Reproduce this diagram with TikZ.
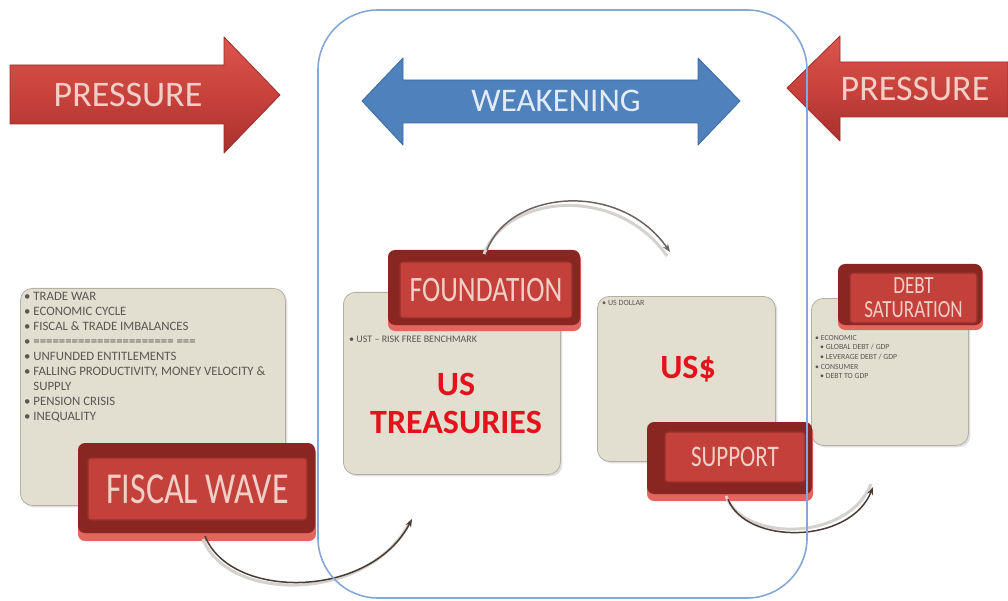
\documentclass[tikz,border=0pt]{standalone}
\usepackage{fontspec}
\usepackage{graphicx}
\setmainfont{Carlito}
\usetikzlibrary{arrows.meta,calc,shadows}
\definecolor{redmain}{HTML}{C8423C}
\definecolor{redlight}{HTML}{D9554D}
\definecolor{redlow}{HTML}{A8312C}
\definecolor{reddark}{HTML}{9E2C27}
\definecolor{rimred}{HTML}{8A2622}
\definecolor{glowred}{HTML}{E2665E}
\definecolor{facered}{HTML}{C4413B}
\definecolor{faceline}{HTML}{97302B}
\definecolor{btntext}{HTML}{F0CFC7}
\definecolor{bluemain}{HTML}{4F81BD}
\definecolor{blueline}{HTML}{3C6AA3}
\definecolor{bluetext}{HTML}{E2ECF7}
\definecolor{framecol}{HTML}{86A8D8}
\definecolor{cardfill}{HTML}{E2DED0}
\definecolor{cardline}{HTML}{B3AFA1}
\definecolor{smalltext}{HTML}{5A5751}
\definecolor{bigred}{HTML}{E3131B}
\definecolor{arccol}{HTML}{4A3B36}
\definecolor{arcshadow}{HTML}{D4D2CF}
\newcommand\btxt[1]{\scalebox{1}[1.3]{#1}}
\tikzset{
  redarrow/.style={top color=redlight, bottom color=redlow, middle color=redmain, draw=reddark, line width=0.8, line join=round},
  bluearrow/.style={fill=bluemain, draw=blueline, line width=0.8, line join=round},
  arrowtext/.style={text=btntext, font=\fontsize{36}{40}\selectfont, inner sep=0},
  weaktext/.style={text=bluetext, font=\fontsize{33}{38}\selectfont, inner sep=0},
  card/.style={fill=cardfill, draw=cardline, line width=0.8, rounded corners=12,
    drop shadow={opacity=0.25, shadow xshift=2pt, shadow yshift=-2pt}},
  glowrim/.style={fill=glowred, rounded corners=7},
  darkrim/.style={fill=rimred, rounded corners=7},
  face/.style={fill=facered, draw=faceline, line width=1.2, rounded corners=3,
    text=btntext, inner sep=0, align=center},
  small/.style={text=smalltext, inner sep=0, align=left, anchor=north west},
  bigtext/.style={text=bigred, font=\bfseries\fontsize{34}{40}\selectfont, inner sep=0, align=center},
  arcline/.style={draw=arccol, line width=1.5, -{Stealth[length=8pt,width=6pt]}},
  arcshade/.style={draw=arcshadow, line width=3},
  frame/.style={draw=framecol, line width=1.6, rounded corners=60, inner sep=0}
}
\begin{document}
\begin{tikzpicture}[x=1pt,y=-1pt]
\useasboundingbox (0,0) rectangle (1008,601);

% PRESSURE arrows
\path[redarrow] (10,65) -- (224,65) -- (224,37) -- (280,95) -- (224,153) -- (224,124) -- (10,124) -- cycle;
\node[arrowtext] (pl) at (128,95) {PRESSURE};
\path[redarrow] (1008,62) -- (840,62) -- (840,36) -- (787,88) -- (840,141) -- (840,117) -- (1008,117) -- cycle;
\node[arrowtext] (pr) at (915,89) {PRESSURE};

% WEAKENING
\path[bluearrow] (362,101) -- (403,58) -- (403,80) -- (698,80) -- (698,58) -- (740,101) -- (698,145) -- (698,123) -- (403,123) -- (403,145) -- cycle;
\node[weaktext] (wk) at (556,101) {WEAKENING};

% cards
\node[card, minimum width=265, minimum height=217, anchor=north west] (c1) at (20,288) {};
\node[small, font=\fontsize{12.8}{15}\selectfont] (t1) at (24,292) {%
• TRADE WAR\\
• ECONOMIC CYCLE\\
•  FISCAL \& TRADE IMBALANCES\\
• ====================== ===\\
• UNFUNDED ENTITLEMENTS\\
• FALLING PRODUCTIVITY, MONEY VELOCITY \&\\
\phantom{• }SUPPLY\\
• PENSION CRISIS\\
•  INEQUALITY};

\node[card, minimum width=217, minimum height=182, anchor=north west] (c2) at (343,292) {};
\node[small, font=\fontsize{10}{11}\selectfont] (t2) at (349,336) {• UST – RISK FREE BENCHMARK};
\node[bigtext] (ust) at (456,403) {US\\[-2pt]TREASURIES};

\node[card, minimum width=178, minimum height=165, anchor=north west] (c3) at (597,296) {};
\node[small, font=\fontsize{8}{9}\selectfont] (t3) at (602,300) {• US DOLLAR};
\node[bigtext] (usd) at (688,369) {US\$};

\node[card, minimum width=157, minimum height=147, anchor=north west] (c4) at (811,298) {};
\node[small, font=\fontsize{7.8}{9.6}\selectfont] (t4) at (815,335) {%
• ECONOMIC\\
\hspace{5pt}• GLOBAL DEBT / GDP\\
\hspace{5pt}• LEVERAGE DEBT / GDP\\
• CONSUMER\\
\hspace{5pt}• DEBT TO GDP};

% buttons
\path[glowrim] (78,446) rectangle (316,541);
\path[darkrim] (78,443) rectangle (315,533);
\node[face, minimum width=219, minimum height=62, font=\fontsize{34}{38}\selectfont] (fw) at (197.5,489) {\btxt{FISCAL WAVE}};

\path[glowrim] (388,253) rectangle (581,331);
\path[darkrim] (388,250) rectangle (580,325);
\node[face, minimum width=172, minimum height=56, font=\fontsize{27.5}{30}\selectfont] (fd) at (486,290) {\btxt{FOUNDATION}};

\path[glowrim] (647,425) rectangle (813,501);
\path[darkrim] (647,422) rectangle (812,494);
\node[face, minimum width=140, minimum height=50, font=\fontsize{23}{26}\selectfont] (sp) at (735,457) {\btxt{SUPPORT}};

\path[glowrim] (838,266) rectangle (983,330);
\path[darkrim] (838,264) rectangle (982,325);
\node[face, minimum width=127, minimum height=50, font=\fontsize{19}{23}\selectfont] (ds) at (913.5,298) {\btxt{DEBT}\\[1pt]\btxt{SATURATION}};

% curved arrows
\coordinate (a1s) at (205,536);
\coordinate (a1e) at (412,519);
\coordinate (a2s) at (487,250);
\coordinate (a2e) at (670,252);
\coordinate (a3s) at (728,499);
\coordinate (a3e) at (873,487);
\draw[arcshade, transform canvas={xshift=-2pt,yshift=-3pt}] (a1s) .. controls (230,600) and (370,600) .. (a1e);
\draw[arcline] (a1s) .. controls (230,600) and (370,600) .. (a1e);
\draw[arcshade, transform canvas={xshift=-3pt,yshift=-4pt}] (a2s) .. controls (510,190) and (620,180) .. (a2e);
\draw[arcline, draw=arccol!80] (a2s) .. controls (510,190) and (620,180) .. (a2e);
\draw[arcshade, transform canvas={xshift=-2pt,yshift=3pt}] (a3s) .. controls (745,545) and (850,545) .. (a3e);
\draw[arcline] (a3s) .. controls (745,545) and (850,545) .. (a3e);

% blue frame
\node[frame, minimum width=489, minimum height=588] (fr) at (562.5,304) {};
\end{tikzpicture}
\end{document}
